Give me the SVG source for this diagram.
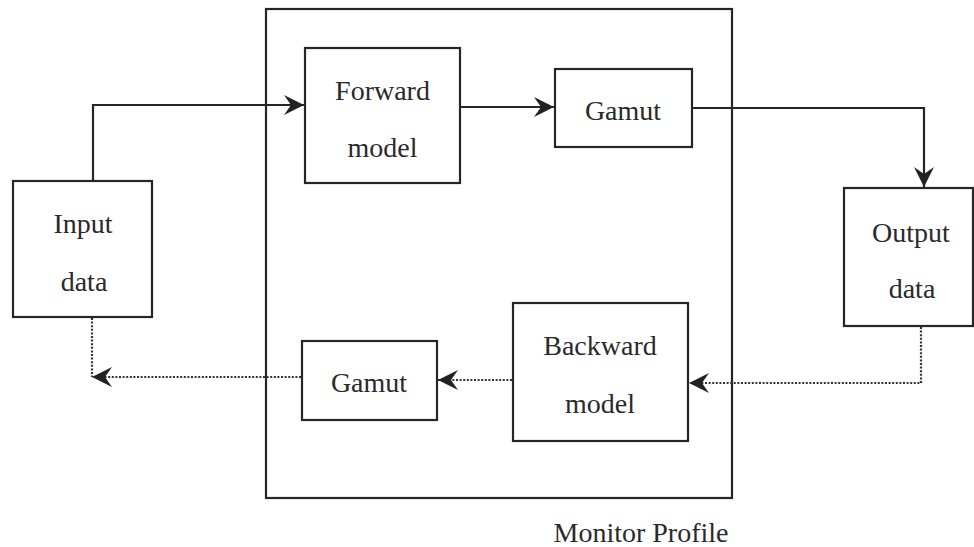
<svg xmlns="http://www.w3.org/2000/svg" width="974" height="547" viewBox="0 0 974 547">
<style>
.box{fill:none;stroke:#262626;stroke-width:2.2}
.lbl{font-family:"Liberation Serif","Times New Roman",serif;font-size:28px;fill:#2a2a2a;text-anchor:middle}
.solid{fill:none;stroke:#262626;stroke-width:2.2}
.dot{fill:none;stroke:#333;stroke-width:2.2;stroke-dasharray:2 1.6}
</style>
<defs>
<marker id="ah" markerUnits="userSpaceOnUse" markerWidth="24" markerHeight="24" viewBox="-22 -12 24 24" refX="0" refY="0" orient="auto">
<path d="M0,0 L-20,-10 L-13,0 L-20,10 Z" fill="#222"/>
</marker>
</defs>
<rect width="974" height="547" fill="#fff"/>
<g id="monitor-profile">
<rect class="box" x="266" y="9" width="466" height="489"/>
<text class="lbl" x="641" y="542">Monitor Profile</text>
</g>
<g id="input-data">
<rect class="box" x="13" y="181" width="139" height="136"/>
<text class="lbl" x="83" y="233">Input</text>
<text class="lbl" x="84" y="291">data</text>
</g>
<g id="forward-model">
<rect class="box" x="305" y="48" width="155" height="135"/>
<text class="lbl" x="382.5" y="100">Forward</text>
<text class="lbl" x="382.5" y="157">model</text>
</g>
<g id="gamut-top">
<rect class="box" x="555" y="69" width="137" height="78"/>
<text class="lbl" x="623" y="120">Gamut</text>
</g>
<g id="output-data">
<rect class="box" x="844" y="188" width="129" height="138"/>
<text class="lbl" x="911" y="242">Output</text>
<text class="lbl" x="912" y="298">data</text>
</g>
<g id="backward-model">
<rect class="box" x="513" y="303" width="175" height="138"/>
<text class="lbl" x="600" y="355">Backward</text>
<text class="lbl" x="600" y="413">model</text>
</g>
<g id="gamut-bottom">
<rect class="box" x="302" y="341" width="135" height="79"/>
<text class="lbl" x="369" y="392">Gamut</text>
</g>
<g id="connectors">
<path class="solid" d="M93,181 L93,105 L304,105" marker-end="url(#ah)"/>
<path class="solid" d="M460,107 L554,107" marker-end="url(#ah)"/>
<path class="solid" d="M692,108 L924,108 L924,187" marker-end="url(#ah)"/>
<path class="dot" d="M921,327 L921,383 L689,383" marker-end="url(#ah)"/>
<path class="dot" d="M512,380 L438,380" marker-end="url(#ah)"/>
<path class="dot" d="M301,377 L92,377" marker-end="url(#ah)"/>
<path class="dot" d="M92,318 L92,377"/>
</g>
</svg>
